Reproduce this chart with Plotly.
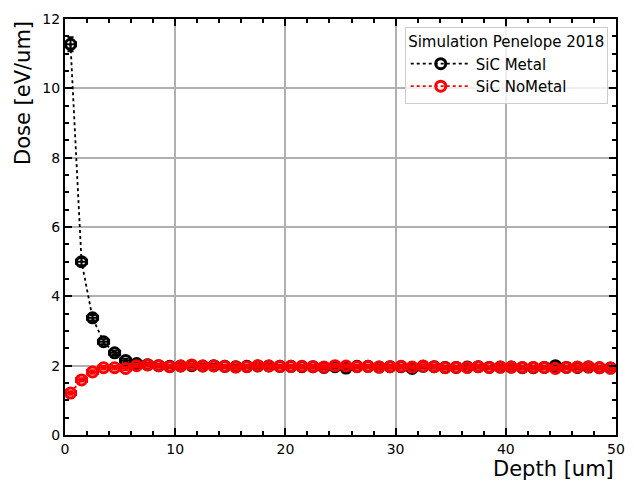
import plotly.graph_objects as go

depth = [i + 0.5 for i in range(50)]
depth_err = [0.5] * 50

dose_metal = [11.27, 5.00, 3.38, 2.69, 2.37, 2.15, 2.06, 2.03, 2.00, 1.98,
              1.99, 2.00, 1.99, 2.00, 1.98, 1.97, 1.98, 1.99, 1.99, 1.98,
              1.98, 1.97, 1.97, 1.95, 1.97, 1.93, 1.98, 1.98, 1.96, 1.97,
              1.97, 1.92, 1.98, 1.97, 1.95, 1.95, 1.96, 1.97, 1.95, 1.96,
              1.96, 1.94, 1.94, 1.95, 2.00, 1.95, 1.95, 1.96, 1.94, 1.93]
err_metal = [0.20, 0.10, 0.08, 0.07, 0.06, 0.05, 0.05, 0.05, 0.05, 0.05] + [0.05] * 40

dose_nometal = [1.21, 1.59, 1.82, 1.94, 1.94, 1.92, 2.00, 2.02, 2.00, 1.97,
                1.99, 2.02, 1.99, 1.99, 1.98, 1.96, 1.97, 2.00, 1.99, 1.98,
                1.98, 1.98, 1.97, 1.96, 2.00, 1.99, 1.97, 1.98, 1.96, 1.97,
                1.98, 1.96, 1.99, 1.97, 1.94, 1.95, 1.95, 1.97, 1.95, 1.96,
                1.96, 1.95, 1.95, 1.95, 1.92, 1.95, 1.96, 1.97, 1.94, 1.93]
err_nometal = [0.05] * 50

fig = go.Figure()
for name, y, ey, col in [("SiC Metal", dose_metal, err_metal, "black"),
                         ("SiC NoMetal", dose_nometal, err_nometal, "red")]:
    fig.add_trace(go.Scatter(
        x=depth, y=y, name=name, mode="lines+markers",
        line=dict(color=col, width=1.8, dash="dot"),
        marker=dict(symbol="circle-open", size=10, color=col, line=dict(width=3, color=col)),
        error_y=dict(type="data", array=ey, color=col, thickness=2, width=3),
        error_x=dict(type="data", array=depth_err, color=col, thickness=2, width=3),
    ))

axis_common = dict(
    showline=True, linecolor="black", linewidth=2, mirror="allticks",
    ticks="inside", ticklen=7, tickwidth=2, tickcolor="black",
    showgrid=True, gridcolor="#b0b0b0", gridwidth=1.5, zeroline=False,
    tickfont=dict(family="DejaVu Sans", size=14, color="black"),
)
fig.update_xaxes(range=[0, 50], dtick=10, tick0=0,
                 minor=dict(ticks="inside", dtick=2, ticklen=4, tickcolor="black", showgrid=False),
                 **axis_common)
fig.update_yaxes(range=[0, 12], dtick=2, tick0=0,
                 minor=dict(ticks="inside", dtick=0.5, ticklen=4, tickcolor="black", showgrid=False),
                 **axis_common)

fig.update_layout(
    width=634, height=481,
    margin=dict(l=65, r=9, t=19, b=46),
    plot_bgcolor="white", paper_bgcolor="white",
    font=dict(family="DejaVu Sans", color="black"),
    legend=dict(
        title=dict(text="Simulation Penelope 2018", font=dict(size=15), side="top center"),
        x=0.985, y=0.981, xanchor="right", yanchor="top",
        bgcolor="rgba(255,255,255,0.8)", bordercolor="#cccccc", borderwidth=1,
        font=dict(size=15), itemwidth=60,
    ),
    showlegend=True,
    annotations=[
        dict(text="Depth [um]", x=1, y=0, xref="paper", yref="paper", xanchor="right",
             yanchor="top", yshift=-20, showarrow=False, font=dict(size=21)),
        dict(text="Dose [eV/um]", x=0, y=1, xref="paper", yref="paper", xanchor="right",
             yanchor="top", xshift=-28, showarrow=False, textangle=-90, font=dict(size=21)),
    ],
)

fig.write_html("out.html")
